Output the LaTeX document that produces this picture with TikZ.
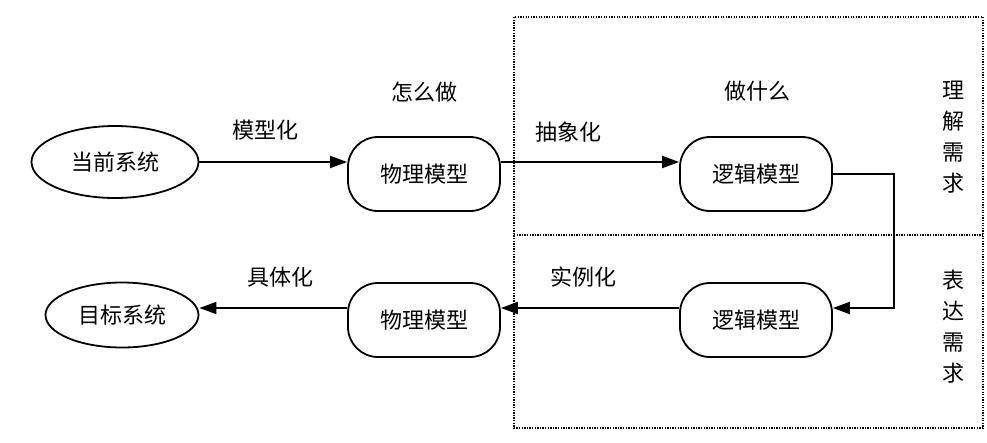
\documentclass[tikz,border=0pt]{standalone}
\usepackage{fontspec}
\newfontfamily\cjk{Noto Sans CJK SC}
\usetikzlibrary{shapes.geometric,arrows.meta}
\begin{document}
\begin{tikzpicture}[x=1pt,y=-1pt,
  txt/.style={font=\cjk\fontsize{22}{22}\selectfont, inner sep=0pt},
  vtxt/.style={font=\cjk\fontsize{22}{31}\selectfont, align=center, inner sep=0pt},
  sysnode/.style={draw, line width=1.8pt, ellipse, inner sep=0pt, txt},
  model/.style={draw, line width=1.8pt, rounded corners=30pt, minimum width=152pt, minimum height=74pt, inner sep=0pt, txt},
  arr/.style={line width=1.8pt, -{Triangle[length=17pt,width=12pt]}},
  dotline/.style={line width=1.5pt, dash pattern=on 1.3pt off 1.3pt}
]
\useasboundingbox (0,0) rectangle (987,442);
% dotted frame
\coordinate (f1) at (514,17);
\coordinate (f2) at (983,428);
\coordinate (m1) at (514,235);
\coordinate (m2) at (983,235);
\draw[dotline] (f1) rectangle (f2);
\draw[dotline] (m1) -- (m2);
% nodes
\node[sysnode, minimum width=167pt, minimum height=72pt] (e1) at (115,162) {当前系统};
\node[model] (p1) at (424,174) {物理模型};
\node[model] (l1) at (756,174) {逻辑模型};
\node[model] (l2) at (756,320) {逻辑模型};
\node[model] (p2) at (424,320) {物理模型};
\node[sysnode, minimum width=153pt, minimum height=65pt] (e2) at (122,315) {目标系统};
% labels
\node[txt] (t1) at (265,130) {模型化};
\node[txt] (t2) at (424,92) {怎么做};
\node[txt] (t3) at (568,132) {抽象化};
\node[txt] (t4) at (757,91) {做什么};
\node[txt] (t5) at (280,277) {具体化};
\node[txt] (t6) at (583,277) {实例化};
\node[vtxt] (v1) at (953,137) {理\\解\\需\\求};
\node[vtxt] (v2) at (953,327) {表\\达\\需\\求};
% connectors
\draw[arr] (e1.east) -- (e1.east -| p1.west);
\draw[arr] ([yshift=12pt]p1.east) -- ([yshift=12pt]l1.west);
\draw[arr] (l1.east) -- ++(61,0) |- ([yshift=12pt]l2.east);
\draw[arr] ([yshift=12pt]l2.west) -- ([yshift=12pt]p2.east);
\coordinate (a5) at ([yshift=12pt]p2.west);
\draw[arr] (a5) -- (a5 -| e2.east);
\end{tikzpicture}
\end{document}
